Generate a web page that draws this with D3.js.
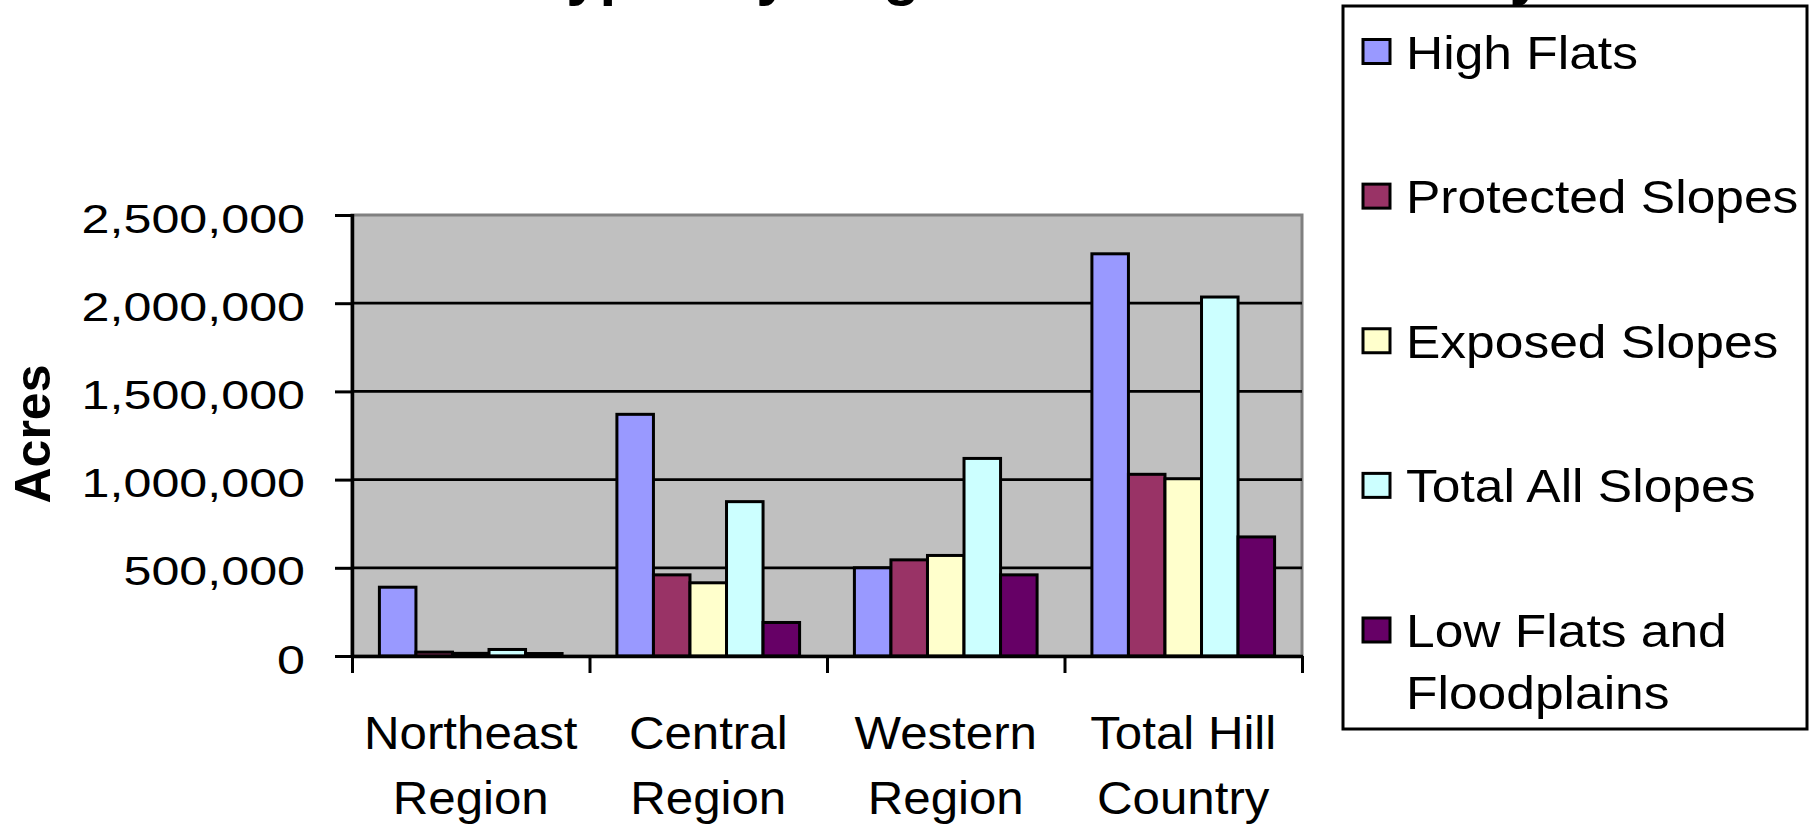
<!DOCTYPE html>
<html>
<head>
<meta charset="utf-8">
<script src="https://cdn.jsdelivr.net/npm/d3@7"></script>
<style>
  html, body { margin: 0; padding: 0; background: #fff; overflow: hidden; }
  text { font-family: "Liberation Sans", Arial, sans-serif; fill: #000; }
</style>
</head>
<body>
<svg id="chart" width="1812" height="829"></svg>
<script>
// Acreage of landform types by region
const regions = [["Northeast", "Region"], ["Central", "Region"], ["Western", "Region"], ["Total Hill", "Country"]];
const seriesNames = ["High Flats", "Protected Slopes", "Exposed Slopes", "Total All Slopes", ["Low Flats and", "Floodplains"]];
const highFlats       = [390000, 1370000,  500000, 2280000];
const protectedSlopes = [ 22000,  460000,  545000, 1030000];
const exposedSlopes   = [ 15000,  415000,  570000, 1005000];
const totalAllSlopes  = [ 37000,  875000, 1120000, 2035000];
const lowFlats        = [ 14000,  190000,  460000,  675000];
const yTicks = [0, 500000, 1000000, 1500000, 2000000, 2500000];
const colors = ["#9999FF", "#993366", "#FFFFCC", "#CCFFFF", "#660066"];
const titleText = "Land Types by Region in the Hill Country";

const series = [highFlats, protectedSlopes, exposedSlopes, totalAllSlopes, lowFlats];

const svg = d3.select("#chart");
const plot = { left: 352, right: 1302, top: 215, bottom: 656 };

// stretch text horizontally by factor k
function stretch(sel, k) {
  sel.each(function () {
    const L = this.getComputedTextLength();
    this.setAttribute("textLength", L * k);
    this.setAttribute("lengthAdjust", "spacingAndGlyphs");
  });
}

const x = d3.scaleBand().domain(d3.range(regions.length)).range([plot.left, plot.right]).padding(0);
const xs = d3.scaleBand().domain(d3.range(series.length)).range([0, x.bandwidth()])
  .paddingInner(0).paddingOuter(0.75);
const xEdges = d3.scaleLinear().domain([0, regions.length]).range([plot.left, plot.right]);
const y = d3.scaleLinear().domain([0, 2500000]).range([plot.bottom, plot.top]);

// title (sits high, mostly above the canvas)
svg.append("text")
  .attr("x", 374).attr("y", -6)
  .attr("font-size", 60).attr("font-weight", "bold")
  .text(titleText);

// plot area
svg.append("rect")
  .attr("x", plot.left).attr("y", plot.top)
  .attr("width", plot.right - plot.left).attr("height", plot.bottom - plot.top)
  .attr("fill", "#C0C0C0").attr("stroke", "#808080").attr("stroke-width", 3);

// gridlines
svg.append("g").selectAll("line")
  .data(yTicks.filter(v => v > 0 && v < 2500000))
  .join("line")
  .attr("x1", plot.left).attr("x2", plot.right)
  .attr("y1", d => y(d)).attr("y2", d => y(d))
  .attr("stroke", "#000").attr("stroke-width", 2.8);

// bars
const groups = svg.append("g").selectAll("g")
  .data(series)
  .join("g")
  .attr("fill", (d, i) => colors[i]);

groups.each(function (vals, si) {
  d3.select(this).selectAll("rect")
    .data(vals)
    .join("rect")
    .attr("x", (d, ci) => x(ci) + xs(si))
    .attr("width", xs.bandwidth())
    .attr("y", d => y(d))
    .attr("height", d => y(0) - y(d))
    .attr("stroke", "#000").attr("stroke-width", 3);
});

// y axis
const yAxis = svg.append("g")
  .attr("transform", `translate(${plot.left},0)`)
  .call(d3.axisLeft(y).tickValues(yTicks).tickFormat(d3.format(",")).tickSize(17).tickPadding(30));
yAxis.select(".domain").attr("stroke", "#000").attr("stroke-width", 3.5)
  .attr("d", `M0.5,${plot.top - 1}V${plot.bottom + 2}`);
yAxis.selectAll(".tick line").attr("stroke", "#000").attr("stroke-width", 3);
yAxis.selectAll(".tick text")
  .attr("font-size", 40.5).attr("font-family", null).attr("dy", "0.42em");
stretch(yAxis.selectAll(".tick text"), 1.24);

// x axis: ticks at category boundaries
const xAxis = svg.append("g")
  .attr("transform", `translate(0,${plot.bottom})`)
  .call(d3.axisBottom(xEdges).tickValues(d3.range(regions.length + 1)).tickFormat("").tickSize(17).tickSizeOuter(0));
xAxis.select(".domain").attr("stroke", "#000").attr("stroke-width", 3.5)
  .attr("d", `M${plot.left - 1},0.5H${plot.right + 1}`);
xAxis.selectAll(".tick line").attr("stroke", "#000").attr("stroke-width", 3);

// category labels (two lines each)
const catLabels = svg.append("g");
regions.forEach((lines, ci) => {
  lines.forEach((line, li) => {
    catLabels.append("text")
      .attr("x", x(ci) + x.bandwidth() / 2)
      .attr("y", 749 + li * 65)
      .attr("text-anchor", "middle")
      .attr("font-size", 46)
      .text(line);
  });
});
stretch(catLabels.selectAll("text"), 1.07);

// y axis title
svg.append("text")
  .attr("transform", "translate(50,434) rotate(-90)")
  .attr("text-anchor", "middle")
  .attr("font-size", 50).attr("font-weight", "bold")
  .text("Acres");

// legend
const legend = svg.append("g");
legend.append("rect")
  .attr("x", 1343).attr("y", 6).attr("width", 464).attr("height", 723)
  .attr("fill", "#fff").attr("stroke", "#000").attr("stroke-width", 3);
const rowY = d3.scaleLinear().domain([0, 4]).range([51.5, 630]);
seriesNames.forEach((name, i) => {
  const cy = rowY(i);
  legend.append("rect")
    .attr("x", 1363).attr("y", cy - 12).attr("width", 27).attr("height", 24)
    .attr("fill", colors[i]).attr("stroke", "#000").attr("stroke-width", 3);
  const lines = Array.isArray(name) ? name : [name];
  lines.forEach((line, li) => {
    legend.append("text")
      .attr("class", "legend-label")
      .attr("x", 1406).attr("y", cy + 17 + li * 61.5)
      .attr("font-size", 46)
      .text(line);
  });
});
stretch(legend.selectAll(".legend-label"), 1.12);
</script>
</body>
</html>
